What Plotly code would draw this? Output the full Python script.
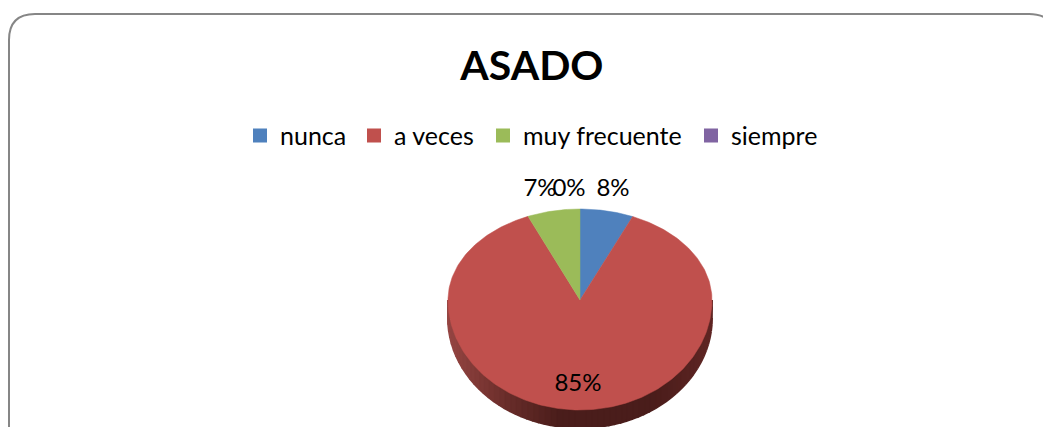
import numpy as np
import plotly.graph_objects as go

categories = ["nunca", "a veces", "muy frecuente", "siempre"]
values = [7.5, 85.1, 7.4, 0]
labels = ["8%", "85%", "7%", "0%"]
colors = ["#4F81BD", "#C0504D", "#9BBB59", "#8064A2"]

W, H = 1043, 427
CX, CY = 580, 300          # apex of the tilted pie
RX, RY_TOP, RY_BOT = 132, 91, 110
DEPTH = 18
WARP = 0.075               # perspective compression of angles near the far edge
FONT = "Lato"

# pixel placement of the data labels and legend entries
label_x = [613, 578, 540, 569]
label_y = [190, 385, 190, 190]
legend_text_x = [278, 392, 521, 729]


def rim(t):
    """Point on the tilted pie rim at clock angle t (radians)."""
    t = np.asarray(t)
    t = t - WARP * np.sin(2 * t)
    c = np.cos(t)
    ry = np.where(c >= 0, RY_TOP, RY_BOT)
    return CX + RX * np.sin(t), CY - ry * c


fig = go.Figure()

# side wall of the pie, darkest just right of the centre
side_stops = [(-1.0, (150, 70, 67)), (-0.55, (105, 45, 42)), (-0.15, (74, 29, 27)),
              (0.55, (74, 29, 27)), (1.0, (96, 38, 36))]
edges = np.linspace(np.pi / 2, 3 * np.pi / 2, 61)
for a, b in zip(edges[:-1], edges[1:]):
    ts = np.linspace(a, b, 4)
    x, y = rim(ts)
    xs = np.concatenate([x, x[::-1]])
    ys = np.concatenate([y, y[::-1] + DEPTH])
    u = (x.mean() - CX) / RX
    col = [np.interp(u, [s[0] for s in side_stops], [s[1][i] for s in side_stops]) for i in range(3)]
    col = "rgb(%d,%d,%d)" % tuple(col)
    fig.add_trace(go.Scatter(x=xs, y=ys, mode="lines", fill="toself", fillcolor=col,
                             line=dict(color=col, width=2), showlegend=False, hoverinfo="skip"))

# top surface: wedges built from the values
shares = np.array(values, dtype=float) / sum(values)
starts = np.concatenate([[0], np.cumsum(shares)[:-1]])
for cat, share, start, col in zip(categories, shares, starts, colors):
    if share > 0:
        ts = np.linspace(start, start + share, max(int(share * 360), 3)) * 2 * np.pi
        x, y = rim(ts)
        fig.add_trace(go.Scatter(x=np.concatenate([[CX], x, [CX]]), y=np.concatenate([[CY], y, [CY]]),
                                 mode="lines", fill="toself", fillcolor=col,
                                 line=dict(color=col, width=0.5), name=cat,
                                 showlegend=False, hoverinfo="skip"))

# legend entries, one positioned legend each so the gaps can follow the reference
legend_layout = {}
for i, (cat, col, tx) in enumerate(zip(categories, colors, legend_text_x)):
    key = "legend" if i == 0 else f"legend{i + 1}"
    fig.add_trace(go.Scatter(x=[None], y=[None], mode="markers", name=cat, legend=key,
                             marker=dict(symbol="square", size=14, color=col)))
    legend_layout[key] = dict(orientation="h", x=(tx - 38) / W, xanchor="left", y=0.682, yanchor="middle",
                              font=dict(family=FONT, size=25, color="#000000"), itemwidth=30,
                              itemclick=False, itemdoubleclick=False, bgcolor="rgba(0,0,0,0)")

# data labels
fig.add_trace(go.Scatter(x=label_x, y=label_y, text=labels, mode="text", showlegend=False,
                         textposition="middle center", hoverinfo="skip",
                         textfont=dict(family=FONT, size=24, color="#000000")))

fig.update_layout(
    width=W, height=H, autosize=False,
    margin=dict(l=0, r=0, t=0, b=0),
    paper_bgcolor="#FFFFFF", plot_bgcolor="#FFFFFF",
    title=dict(text="<b>ASADO</b>", x=0.51, xanchor="center", y=0.846, yanchor="middle",
               font=dict(family=FONT, size=41, color="#000000")),
    xaxis=dict(range=[0, W], visible=False, fixedrange=True),
    yaxis=dict(range=[H, 0], visible=False, fixedrange=True),
    shapes=[dict(type="path", xref="x", yref="y", layer="below",
                 path="M 9 440 L 9 40 Q 9 14 35 14 L 1029 14 Q 1055 14 1055 40 L 1055 440",
                 line=dict(color="#868686", width=2))],
    **legend_layout,
)

fig.write_html("out.html", config=dict(displayModeBar=False),
               post_script="document.body.style.margin='0';document.body.style.overflow='hidden';")
